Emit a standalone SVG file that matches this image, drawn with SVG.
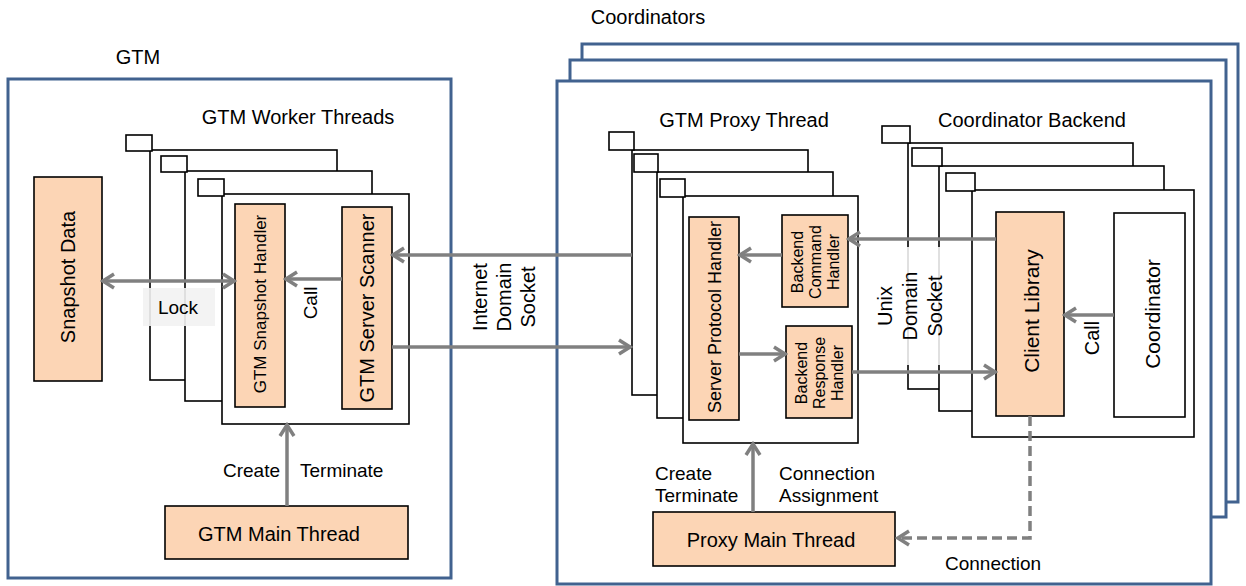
<svg xmlns="http://www.w3.org/2000/svg" width="1246" height="586" viewBox="0 0 1246 586">
  <defs>
    <style>
      text { font-family: "Liberation Sans", Arial, sans-serif; fill: #000; }
      .t20 { font-size: 20px; }
      .t19 { font-size: 19px; }
      .mid { text-anchor: middle; dominant-baseline: central; }
      .outer { fill: #fff; stroke: #41628f; stroke-width: 3; }
      .frame { fill: #fff; stroke: #000; stroke-width: 1.6; }
      .proc { fill: #fcd5b5; stroke: #000; stroke-width: 1.6; }
      .plain { fill: #fff; stroke: #000; stroke-width: 1.6; }
      .conn { fill: none; stroke: #808080; stroke-width: 3.5; }
      .dash { stroke-dasharray: 10 5; }
    </style>
    <marker id="ah" viewBox="0 0 16 18" refX="14" refY="9" markerWidth="16" markerHeight="18" orient="auto-start-reverse" markerUnits="userSpaceOnUse">
      <path d="M2,2 L13,9 L2,16" fill="none" stroke="#808080" stroke-width="3.5"/>
    </marker>
  </defs>

  <!-- group titles -->
  <text class="t20" x="138" y="64" text-anchor="middle">GTM</text>
  <text class="t20" x="648" y="24" text-anchor="middle">Coordinators</text>

  <!-- GTM process frame -->
  <g id="gtm">
    <rect class="outer" x="8" y="79" width="443" height="499"/>
  </g>

  <!-- coordinator process frames, stacked -->
  <g id="coordinators">
    <rect class="outer" x="582" y="44" width="656" height="458"/>
    <rect class="outer" x="570" y="60" width="656" height="457"/>
    <rect class="outer" x="557" y="81" width="654" height="503"/>
  </g>

  <!-- GTM worker thread stack -->
  <g id="gtm-worker-threads">
    <text class="t20" x="298" y="124" text-anchor="middle">GTM Worker Threads</text>
    <rect class="frame" x="150" y="150" width="187" height="230"/>
    <rect class="frame" x="126" y="135" width="26" height="16"/>
    <rect class="frame" x="185" y="171" width="187" height="230"/>
    <rect class="frame" x="161" y="156" width="26" height="16"/>
    <rect class="frame" x="222" y="194" width="187" height="230"/>
    <rect class="frame" x="198" y="179" width="26" height="17"/>
  </g>

  <g id="snapshot-data">
    <rect class="proc" x="34" y="177" width="68" height="204"/>
    <text class="t20 mid" transform="translate(68 277) rotate(-90)">Snapshot Data</text>
  </g>

  <g id="gtm-snapshot-handler">
    <rect class="proc" x="235" y="204" width="50" height="203"/>
    <text class="mid" font-size="17" transform="translate(260 304) rotate(-90)">GTM Snapshot Handler</text>
  </g>

  <g id="gtm-server-scanner">
    <rect class="proc" x="342" y="207" width="50" height="202"/>
    <text class="t20 mid" transform="translate(367 308) rotate(-90)">GTM Server Scanner</text>
  </g>

  <g id="gtm-main-thread">
    <rect class="proc" x="165" y="506" width="243" height="53"/>
    <text class="t20" x="279" y="541" text-anchor="middle">GTM Main Thread</text>
  </g>

  <!-- GTM proxy thread stack -->
  <g id="gtm-proxy-threads">
    <text class="t20" x="744" y="127" text-anchor="middle">GTM Proxy Thread</text>
    <rect class="frame" x="632" y="150" width="176" height="245"/>
    <rect class="frame" x="609" y="132" width="25" height="18"/>
    <rect class="frame" x="657" y="172" width="176" height="246"/>
    <rect class="frame" x="634" y="154" width="24" height="18"/>
    <rect class="frame" x="683" y="196" width="175" height="247"/>
    <rect class="frame" x="660" y="179" width="25" height="18"/>
  </g>

  <g id="server-protocol-handler">
    <rect class="proc" x="689" y="217" width="50" height="203"/>
    <text class="mid" font-size="18" transform="translate(715 317) rotate(-90)">Server Protocol Handler</text>
  </g>

  <g id="backend-command-handler">
    <rect class="proc" x="782" y="215" width="66" height="92"/>
    <text class="mid" font-size="16" transform="translate(797 262) rotate(-90)">Backend</text>
    <text class="mid" font-size="16" transform="translate(815 262) rotate(-90)">Command</text>
    <text class="mid" font-size="16" transform="translate(833 262) rotate(-90)">Handler</text>
  </g>

  <g id="backend-response-handler">
    <rect class="proc" x="786" y="326" width="66" height="92"/>
    <text class="mid" font-size="16" transform="translate(801 373) rotate(-90)">Backend</text>
    <text class="mid" font-size="16" transform="translate(819 373) rotate(-90)">Response</text>
    <text class="mid" font-size="16" transform="translate(837 373) rotate(-90)">Handler</text>
  </g>

  <g id="proxy-main-thread">
    <rect class="proc" x="653" y="512" width="242" height="54"/>
    <text class="t20" x="771" y="547" text-anchor="middle">Proxy Main Thread</text>
  </g>

  <!-- coordinator backend stack -->
  <g id="coordinator-backends">
    <text class="t20" x="1032" y="127" text-anchor="middle">Coordinator Backend</text>
    <rect class="frame" x="908" y="143" width="225" height="246"/>
    <rect class="frame" x="882" y="126" width="28" height="17"/>
    <rect class="frame" x="939" y="166" width="225" height="245"/>
    <rect class="frame" x="912" y="148" width="30" height="18"/>
    <rect class="frame" x="972" y="190" width="222" height="247"/>
    <rect class="frame" x="946" y="173" width="29" height="18"/>
  </g>

  <g id="client-library">
    <rect class="proc" x="996" y="212" width="68" height="204"/>
    <text class="mid" font-size="21" transform="translate(1031 311) rotate(-90)">Client Library</text>
  </g>

  <g id="coordinator">
    <rect class="plain" x="1114" y="213" width="71" height="204"/>
    <text class="mid" font-size="21" transform="translate(1152 314) rotate(-90)">Coordinator</text>
  </g>

  <!-- connectors -->
  <g id="connectors">
    <path class="conn" d="M102,281 H235" marker-start="url(#ah)" marker-end="url(#ah)"/>
    <path class="conn" d="M342,279 H285" marker-end="url(#ah)"/>
    <path class="conn" d="M632,255 H392" marker-end="url(#ah)"/>
    <path class="conn" d="M392,347 H631" marker-end="url(#ah)"/>
    <path class="conn" d="M287,506 V424" marker-end="url(#ah)"/>
    <path class="conn" d="M782,255 H739" marker-end="url(#ah)"/>
    <path class="conn" d="M739,354 H786" marker-end="url(#ah)"/>
    <path class="conn" d="M996,239 H848" marker-end="url(#ah)"/>
    <path class="conn" d="M852,372 H996" marker-end="url(#ah)"/>
    <path class="conn" d="M1114,315 H1064" marker-end="url(#ah)"/>
    <path class="conn" d="M753,512 V443" marker-end="url(#ah)"/>
    <path class="conn dash" d="M1030,416 V538 H897" marker-end="url(#ah)"/>
  </g>

  <!-- connector labels -->
  <g id="labels">
    <rect x="143" y="288" width="72" height="38" fill="#f2f2f2" fill-opacity="0.9"/>
    <text class="t19" x="178" y="314" text-anchor="middle">Lock</text>
    <text class="mid" font-size="19" transform="translate(310 303) rotate(-90)">Call</text>
    <text class="t19" x="223" y="477">Create</text>
    <text class="t19" x="300" y="477">Terminate</text>

    <text class="t20 mid" transform="translate(480 297) rotate(-90)">Internet</text>
    <text class="t20 mid" transform="translate(504 297) rotate(-90)">Domain</text>
    <text class="t20 mid" transform="translate(528 297) rotate(-90)">Socket</text>

    <rect x="875" y="247" width="74" height="118" fill="#fff" fill-opacity="0.85"/>
    <text class="t20 mid" transform="translate(885 306) rotate(-90)">Unix</text>
    <text class="t20 mid" transform="translate(910 306) rotate(-90)">Domain</text>
    <text class="t20 mid" transform="translate(935 306) rotate(-90)">Socket</text>

    <text class="mid" font-size="20" transform="translate(1092 338) rotate(-90)">Call</text>

    <text class="t19" x="655" y="480">Create</text>
    <text class="t19" x="655" y="502">Terminate</text>
    <text class="t19" x="779" y="480">Connection</text>
    <text class="t19" x="779" y="502">Assignment</text>
    <text class="t19" x="945" y="570">Connection</text>
  </g>
</svg>
